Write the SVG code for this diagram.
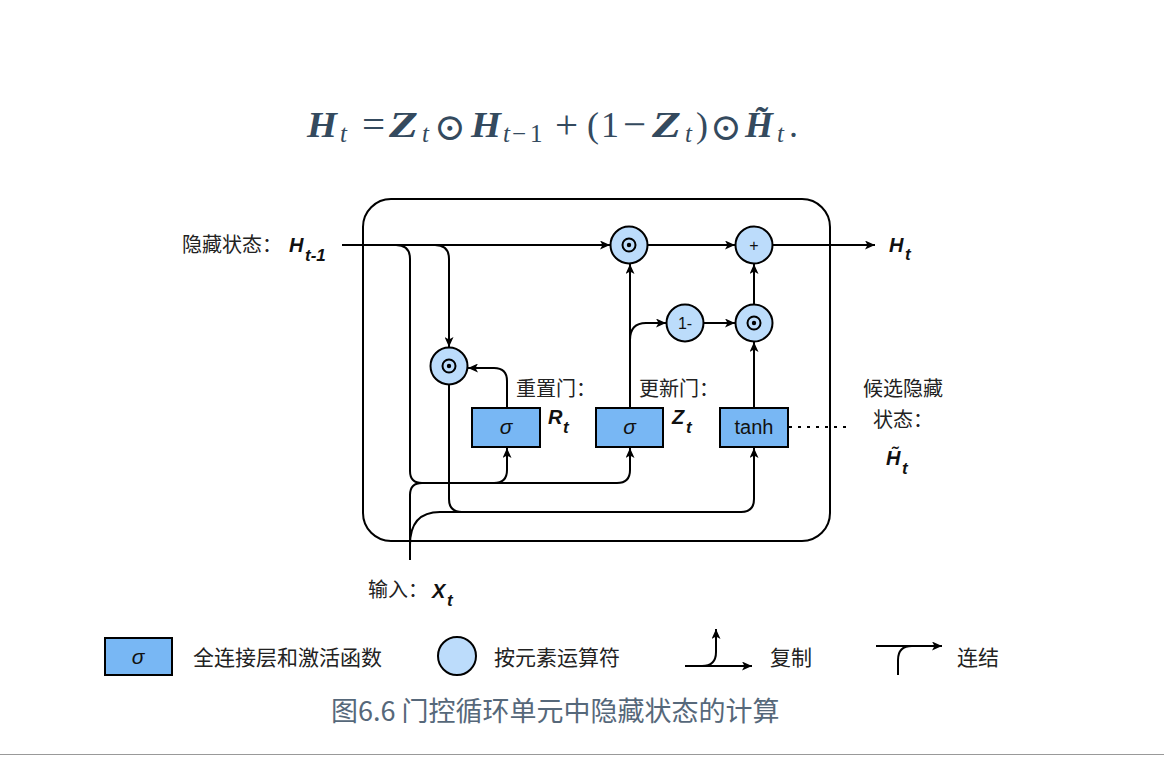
<svg xmlns="http://www.w3.org/2000/svg" width="1164" height="762" viewBox="0 0 1164 762">
<style>
.ln{fill:none;stroke:#000;stroke-width:2}
.arr{marker-end:url(#ah)}
.box{fill:#78b7f4;stroke:#000;stroke-width:2}
.op{fill:#bcdcfb;stroke:#000;stroke-width:2}
.cjk{font-family:"Noto Sans CJK SC","Noto Sans",sans-serif;font-size:20px;fill:#222}
.leg{font-family:"Noto Sans CJK SC","Noto Sans",sans-serif;font-size:21px;fill:#222}
.mi{font-family:"Liberation Sans",Arial,sans-serif;font-style:italic;font-weight:bold;font-size:20px;fill:#111}
.sub{font-size:17px}
.lbl{font-family:"Liberation Sans",Arial,sans-serif;font-size:20px;fill:#111;text-anchor:middle}
.sig{font-family:"Liberation Sans",Arial,sans-serif;font-style:italic;font-size:21px;fill:#111;text-anchor:middle}
.fm{font-family:"Liberation Serif","Times New Roman",serif;font-size:36px;fill:#344a5e}
.fb{font-weight:bold;font-style:italic}
.fi{font-style:italic;font-size:25px}
.fs{font-size:25px}
.fo{font-size:41px}
.odot{font-family:"DejaVu Serif",serif;font-size:38px;fill:#344a5e}
</style>
<defs>
<marker id="ah" markerUnits="userSpaceOnUse" markerWidth="11" markerHeight="9" refX="10" refY="4.5" orient="auto">
<path d="M0,0 L10,4.5 L0,9 L2.5,4.5 z" fill="#000"/>
</marker>
</defs>
<rect width="1164" height="762" fill="#fff"/>

<g id="formula">
<text class="fm fb" x="307" y="137" textLength="30" lengthAdjust="spacingAndGlyphs">H</text>
<text class="fm fi" x="340" y="142">t</text>
<text class="fm fo" x="362" y="138">=</text>
<text class="fm fb" x="389" y="137" textLength="29" lengthAdjust="spacingAndGlyphs">Z</text>
<text class="fm fi" x="422" y="142">t</text>
<text class="odot" x="434" y="140">⊙</text>
<text class="fm fb" x="471" y="137" textLength="30" lengthAdjust="spacingAndGlyphs">H</text>
<text class="fm fi" x="503" y="142">t</text>
<text class="fm fs" x="512" y="142">−</text>
<text class="fm fs" x="530" y="142">1</text>
<text class="fm fo" x="555" y="138">+</text>
<text class="fm" x="587" y="137">(</text>
<text class="fm" x="601" y="137">1</text>
<text class="fm fo" x="623" y="138">−</text>
<text class="fm fb" x="652" y="137" textLength="29" lengthAdjust="spacingAndGlyphs">Z</text>
<text class="fm fi" x="685" y="142">t</text>
<text class="fm" x="696" y="137">)</text>
<text class="odot" x="710" y="140">⊙</text>
<text class="fm fb" x="745" y="137">H̃</text>
<text class="fm fi" x="777" y="142">t</text>
<text class="fm" x="789" y="137">.</text>
</g>

<g id="frame">
<rect x="363" y="199" width="467" height="342" rx="28" ry="28" class="ln"/>
</g>

<g id="connectors">
<path class="ln arr" d="M342,245 H610"/>
<path class="ln" d="M396,245 Q410,245 410,259 V471 Q410,483 422,483"/>
<path class="ln arr" d="M410,560 V495 Q410,483 422,483 H617 Q630,483 630,470 V448"/>
<path class="ln arr" d="M494,483 Q507,483 507,470 V448"/>
<path class="ln" d="M410,545 Q410,512 440,512 H462"/>
<path class="ln arr" d="M435,245 Q449,245 449,259 V347"/>
<path class="ln arr" d="M449,385 V499 Q449,512 462,512 H741 Q754,512 754,499 V448"/>
<path class="ln arr" d="M507,408 V381 Q507,368 494,368 H468"/>
<path class="ln arr" d="M630,408 V264"/>
<path class="ln arr" d="M630,340 Q630,323 646,323 H666"/>
<path class="ln arr" d="M704,323 H735"/>
<path class="ln arr" d="M754,408 V342"/>
<path class="ln arr" d="M754,304 V264"/>
<path class="ln arr" d="M648,245 H735"/>
<path class="ln arr" d="M772,245 H875"/>
<path class="ln" d="M789,427 H852" stroke-dasharray="3 6"/>
</g>

<g id="op_hr">
<circle class="op" cx="449" cy="366" r="18.5"/>
<circle cx="449" cy="366" r="6.5" fill="none" stroke="#000" stroke-width="2"/>
<circle cx="449" cy="366" r="2.2" fill="#000"/>
</g>
<g id="op_zh">
<circle class="op" cx="629" cy="245" r="18.5"/>
<circle cx="629" cy="245" r="6.5" fill="none" stroke="#000" stroke-width="2"/>
<circle cx="629" cy="245" r="2.2" fill="#000"/>
</g>
<g id="op_plus">
<circle class="op" cx="754" cy="245" r="18.5"/>
<text class="lbl" x="754" y="251" style="font-size:16px">+</text>
</g>
<g id="op_oneminus">
<circle class="op" cx="685" cy="323" r="18.5"/>
<text class="lbl" x="685" y="329" style="font-size:16px">1-</text>
</g>
<g id="op_zhh">
<circle class="op" cx="754" cy="323" r="18.5"/>
<circle cx="754" cy="323" r="6.5" fill="none" stroke="#000" stroke-width="2"/>
<circle cx="754" cy="323" r="2.2" fill="#000"/>
</g>

<g id="box_r">
<rect class="box" x="472" y="408" width="68" height="39"/>
<text class="sig" x="506" y="434">σ</text>
</g>
<g id="box_z">
<rect class="box" x="596" y="408" width="67" height="39"/>
<text class="sig" x="629.5" y="434">σ</text>
</g>
<g id="box_tanh">
<rect class="box" x="720" y="408" width="68" height="39"/>
<text class="lbl" x="754" y="434">tanh</text>
</g>

<g id="labels">
<text class="cjk" x="182" y="252">隐藏状态：</text>
<text class="mi" x="289" y="252">H</text>
<text class="mi sub" x="305" y="261">t-1</text>
<text class="mi" x="889" y="252">H</text>
<text class="mi sub" x="905" y="260">t</text>
<text class="cjk" x="516" y="396">重置门：</text>
<text class="mi" x="548" y="424">R</text>
<text class="mi sub" x="563" y="433">t</text>
<text class="cjk" x="639" y="396">更新门：</text>
<text class="mi" x="672" y="424">Z</text>
<text class="mi sub" x="686" y="433">t</text>
<text class="cjk" x="863" y="396">候选隐藏</text>
<text class="cjk" x="873" y="427">状态：</text>
<text class="mi" x="886" y="465">H̃</text>
<text class="mi sub" x="902" y="474">t</text>
<text class="cjk" x="368" y="597">输入：</text>
<text class="mi" x="432" y="598">X</text>
<text class="mi sub" x="447" y="606">t</text>
</g>

<g id="legend">
<g id="leg_box">
<rect class="box" x="105" y="638" width="67" height="37"/>
<text class="sig" x="138" y="664">σ</text>
<text class="leg" x="193" y="665">全连接层和激活函数</text>
</g>
<g id="leg_op">
<circle class="op" cx="457" cy="656" r="19"/>
<text class="leg" x="494" y="665">按元素运算符</text>
</g>
<g id="leg_copy">
<path class="ln arr" d="M685,666 H752"/>
<path class="ln arr" d="M702,666 Q716,666 716,652 V629"/>
<text class="leg" x="770" y="665">复制</text>
</g>
<g id="leg_concat">
<path class="ln arr" d="M876,646 H942"/>
<path class="ln" d="M898,675 V660 Q898,646 912,646"/>
<text class="leg" x="957" y="665">连结</text>
</g>
</g>

<g id="caption">
<text x="331" y="721" style="font-family:'Noto Sans CJK SC','Noto Sans',sans-serif;font-size:27px;fill:#56687a">图6.6 门控循环单元中隐藏状态的计算</text>
</g>
<line x1="0" y1="754.5" x2="1164" y2="754.5" stroke="#999" stroke-width="1"/>
</svg>
